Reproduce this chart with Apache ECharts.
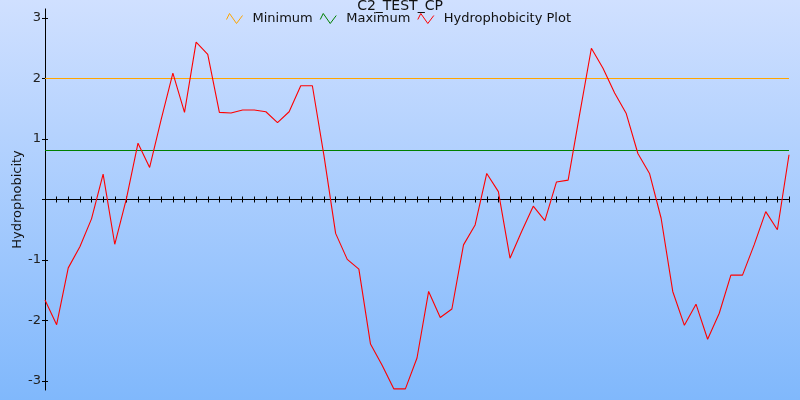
<!DOCTYPE html>
<html><head><meta charset="utf-8">
<script src="https://cdn.jsdelivr.net/npm/echarts@6/dist/echarts.min.js"></script>
<style>html,body{margin:0;padding:0;background:#fff}#c{width:800px;height:400px;}</style>
</head><body><div id="c"></div>
<script>
const chartTitle = 'C2_TEST_CP';
const yAxisTitle = 'Hydrophobicity';
const seriesNames = ['Minimum', 'Maximum', 'Hydrophobicity Plot'];
const minimumLevel = 2;
const maximumLevel = 0.81;
const hydrophobicity = [
  -1.66, -2.07, -1.13, -0.78, -0.32, 0.42, -0.74, 0.01, 0.93, 0.53,
  1.33, 2.09, 1.44, 2.60, 2.40, 1.44, 1.43, 1.48, 1.48, 1.45,
  1.27, 1.45, 1.88, 1.88, 0.72, -0.56, -0.99, -1.15, -2.39, -2.74,
  -3.13, -3.13, -2.62, -1.52, -1.95, -1.81, -0.75, -0.42, 0.43, 0.13,
  -0.97, -0.53, -0.11, -0.35, 0.29, 0.32, 1.42, 2.50, 2.17, 1.76,
  1.42, 0.76, 0.43, -0.31, -1.52, -2.08, -1.73, -2.31, -1.88, -1.25,
  -1.25, -0.75, -0.20, -0.50, 0.74
];
const yTickValues = [-3, -2, -1, 0, 1, 2, 3];
const yLabelValues = [-3, -2, -1, 1, 2, 3];
const yMin = -3.15, yMax = 3.15;
const positions = hydrophobicity.map((_, i) => String(i + 1));

const FONT = 'DejaVu Sans';
const gridLeft = 45, gridRight = 11;
const gridWidth = 800 - gridLeft - gridRight;
const iconPath = 'path://M0,6 L3,0 L10,10 L16,2';

const chart = echarts.init(document.getElementById('c'), null, {renderer: 'canvas'});
chart.setOption({
  animation: false,
  backgroundColor: {type: 'linear', x: 0, y: 0, x2: 0, y2: 1,
    colorStops: [{offset: 0, color: '#d0e0ff'}, {offset: 1, color: '#80b8fc'}]},
  title: {text: chartTitle, left: 'center', top: -1, padding: 0,
    textStyle: {fontFamily: FONT, fontSize: 14, fontWeight: 'normal', color: '#111'}},
  legend: {
    top: 12, left: 226, padding: 0, itemWidth: 16, itemHeight: 10, itemGap: 7,
    icon: iconPath,
    textStyle: {fontFamily: FONT, fontSize: 13, color: '#111', padding: [0, 0, 0, 5]},
    data: [
      {name: seriesNames[0], itemStyle: {color: 'transparent', borderColor: '#ffa500', borderWidth: 1}},
      {name: seriesNames[1], itemStyle: {color: 'transparent', borderColor: '#008000', borderWidth: 1}},
      {name: seriesNames[2], itemStyle: {color: 'transparent', borderColor: '#ff0000', borderWidth: 1}}
    ]
  },
  grid: {left: gridLeft, right: gridRight, top: 8.925, bottom: 9.925, containLabel: false, outerBoundsMode: 'none'},
  xAxis: [
    {type: 'category', data: positions, boundaryGap: false,
      axisLine: {onZero: true, lineStyle: {color: '#000', width: 1}},
      axisTick: {show: true, length: 3, interval: 0, lineStyle: {color: '#000'}},
      axisLabel: {show: false}, splitLine: {show: false}},
    {type: 'category', data: positions, boundaryGap: false, position: 'top',
      axisLine: {onZero: true, lineStyle: {color: '#000', width: 1}},
      axisTick: {show: true, length: 3, interval: 0, lineStyle: {color: '#000'}},
      axisLabel: {show: false}, splitLine: {show: false}}
  ],
  yAxis: [
    {type: 'value', min: yMin, max: yMax, position: 'left',
      axisLine: {show: true, onZero: false, lineStyle: {color: '#000'}},
      axisTick: {show: true, length: 3, customValues: yTickValues, lineStyle: {color: '#000'}},
      axisLabel: {customValues: yLabelValues, color: '#222', fontFamily: FONT, fontSize: 13, margin: 4},
      splitLine: {show: false},
      name: yAxisTitle, nameLocation: 'middle', nameGap: 21, nameMoveOverlap: false,
      nameTextStyle: {fontFamily: FONT, fontSize: 13, color: '#111'}},
    {type: 'value', min: yMin, max: yMax, position: 'right', offset: -gridWidth,
      axisLine: {show: false, onZero: false},
      axisTick: {show: true, length: 3, customValues: yTickValues, lineStyle: {color: '#000'}},
      axisLabel: {show: false}, splitLine: {show: false}}
  ],
  series: [
    {name: seriesNames[0], type: 'line', data: [], color: '#ffa500',
      markLine: {silent: true, symbol: 'none', label: {show: false},
        lineStyle: {color: '#ffa500', width: 1, type: 'solid', opacity: 1}, data: [{yAxis: minimumLevel}]}},
    {name: seriesNames[1], type: 'line', data: [], color: '#008000',
      markLine: {silent: true, symbol: 'none', label: {show: false},
        lineStyle: {color: '#008000', width: 1, type: 'solid', opacity: 1}, data: [{yAxis: maximumLevel}]}},
    {name: seriesNames[2], type: 'line', data: hydrophobicity, color: '#ff0000',
      symbol: 'none', lineStyle: {color: '#ff0000', width: 1.1}, z: 5}
  ]
});
</script>
</body></html>
